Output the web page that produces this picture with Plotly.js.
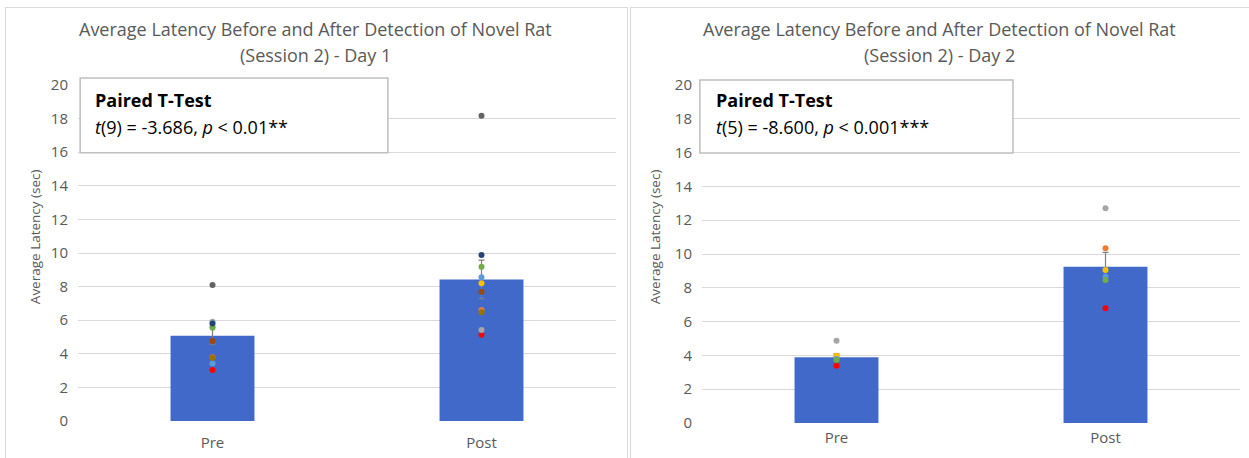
<!DOCTYPE html>
<html>
<head>
<meta charset="utf-8">
<script src="https://cdn.plot.ly/plotly-3.0.1.min.js"></script>
<style>
  html, body { margin: 0; padding: 0; background: #ffffff; width: 1249px; height: 458px; overflow: hidden; }
  .panel { position: absolute; top: 7px; height: 470px; box-sizing: border-box; border: 1px solid #d9d9d9; background: #fff; }
  #p1 { left: 5px; width: 623px; }
  #p2 { left: 630px; width: 640px; }
</style>
</head>
<body>
<div id="p1" class="panel"><div id="chart1"></div></div>
<div id="p2" class="panel"><div id="chart2"></div></div>
<script>
// ---------------- data ----------------
const categories = ['Pre', 'Post'];

const titleLine1 = 'Average Latency Before and After Detection of Novel Rat';
const day1Title = '(Session 2) - Day 1';
const day2Title = '(Session 2) - Day 2';
const yTitle = 'Average Latency (sec)';

const day1Means = [5.08, 8.43];
const day1Sem = [0.50, 1.15];
const day2Means = [3.89, 9.25];
const day2Sem = [0.20, 0.85];

// individual subjects (Pre, Post)
const day1Subjects = ['S1', 'S2', 'S3', 'S4', 'S5', 'S6', 'S7', 'S8', 'S9', 'S10'];
const day1Pre  = [3.04, 3.80, 5.91, 5.65, 3.43, 5.55, 5.81, 4.76, 8.10, 3.77];
const day1Post = [5.14, 6.61, 5.42, 8.20, 8.55, 9.18, 9.88, 7.70, 18.17, 6.47];

const day2Subjects = ['S1', 'S2', 'S3', 'S4', 'S5', 'S6'];
const day2Pre  = [3.39, 3.98, 4.87, 3.96, 3.78, 3.73];
const day2Post = [6.79, 10.34, 12.70, 9.05, 8.66, 8.46];

const yTicks = [0, 2, 4, 6, 8, 10, 12, 14, 16, 18, 20];

const day1Stat = 't(9) = -3.686, p < 0.01**';
const day2Stat = 't(5) = -8.600, p < 0.001***';

// ---------------- styles ----------------
const subjectColors = ['#FF0000', '#ED7D31', '#A5A5A5', '#FFC000', '#5B9BD5',
                       '#70AD47', '#264478', '#9E480E', '#636363', '#997300'];
const barColor = '#4169CA';
const FONT = 'Open Sans, Liberation Sans, sans-serif';
const GREY = '#595959';

function fmtStat(s) {
  return s.replace(/^t\(/, '<i>t</i>(').replace(', p ', ', <i>p</i> ');
}

function build(div, means, sem, subjects, pre, post, subtitle, stat, geo) {
  const traces = [{
    type: 'bar', x: categories, y: means,
    marker: { color: barColor },
    error_y: { type: 'data', array: sem, visible: true, color: '#7f7f7f', thickness: 1.2, width: 3 },
    hoverinfo: 'skip', showlegend: false
  }];
  subjects.forEach((s, i) => {
    traces.push({
      type: 'scatter', mode: 'markers', name: s,
      x: categories, y: [pre[i], post[i]],
      marker: { color: subjectColors[i], size: 6 },
      showlegend: false, hoverinfo: 'skip', cliponaxis: false
    });
  });
  const layout = {
    width: geo.w, height: 450,
    margin: { l: geo.l, r: geo.r, t: 77, b: geo.b },
    paper_bgcolor: '#fff', plot_bgcolor: '#fff',
    bargap: 0.688,
    font: { family: FONT, color: GREY },
    xaxis: {
      type: 'category', showgrid: false, zeroline: false, showline: false,
      ticks: '', tickfont: { size: 15, color: GREY, family: FONT },
      ticklabelstandoff: geo.xstand
    },
    yaxis: {
      range: [0, 20], tickvals: yTicks, ticktext: yTicks.map(String),
      showgrid: true, gridcolor: '#d9d9d9', gridwidth: 1, zeroline: false, showline: false,
      ticks: '', tickfont: { size: 15, color: GREY, family: FONT },
      ticklabelstandoff: 9
    },
    shapes: [{
      type: 'rect', xref: 'paper', yref: 'paper', layer: 'above',
      x0: geo.bx0, x1: geo.bx1, y0: geo.by0, y1: geo.by1,
      fillcolor: '#ffffff', line: { color: '#bfbfbf', width: 1.5 }
    }],
    annotations: [
      { xref: 'paper', yref: 'paper', x: 0.442, y: geo.t1, xanchor: 'center', yanchor: 'middle',
        text: titleLine1, showarrow: false, font: { size: 18, color: GREY, family: FONT } },
      { xref: 'paper', yref: 'paper', x: 0.442, y: geo.t2, xanchor: 'center', yanchor: 'middle',
        text: subtitle, showarrow: false, font: { size: 18, color: GREY, family: FONT } },
      { xref: 'paper', yref: 'paper', x: geo.ytx, y: 0.55, xanchor: 'center', yanchor: 'middle',
        text: yTitle, textangle: -90, showarrow: false, font: { size: 13.5, color: GREY, family: FONT } },
      { xref: 'paper', yref: 'paper', x: geo.tx, y: geo.l1, xanchor: 'left', yanchor: 'middle',
        text: '<b>Paired T-Test</b>', showarrow: false, font: { size: 18, color: '#000', family: FONT } },
      { xref: 'paper', yref: 'paper', x: geo.tx, y: geo.l2, xanchor: 'left', yanchor: 'middle',
        text: fmtStat(stat), showarrow: false, font: { size: 18, color: '#000', family: FONT } }
    ]
  };
  Plotly.newPlot(div, traces, layout, { displayModeBar: false, staticPlot: true });
}

build('chart1', day1Means, day1Sem, day1Subjects, day1Pre, day1Post, day1Title, day1Stat,
  { w: 621, l: 72, r: 11, b: 37, xstand: 11, bx0: 0.004, bx1: 0.576, by0: 0.798, by1: 1.021,
    t1: 1.1667, t2: 1.089, ytx: -0.08, tx: 0.0279, l1: 0.955, l2: 0.875 });
build('chart2', day2Means, day2Sem, day2Subjects, day2Pre, day2Post, day2Title, day2Stat,
  { w: 620, l: 71, r: 11, b: 35, xstand: 4, bx0: -0.004, bx1: 0.578, by0: 0.799, by1: 1.015,
    t1: 1.166, t2: 1.089, ytx: -0.087, tx: 0.0223, l1: 0.956, l2: 0.876 });
</script>
</body>
</html>
